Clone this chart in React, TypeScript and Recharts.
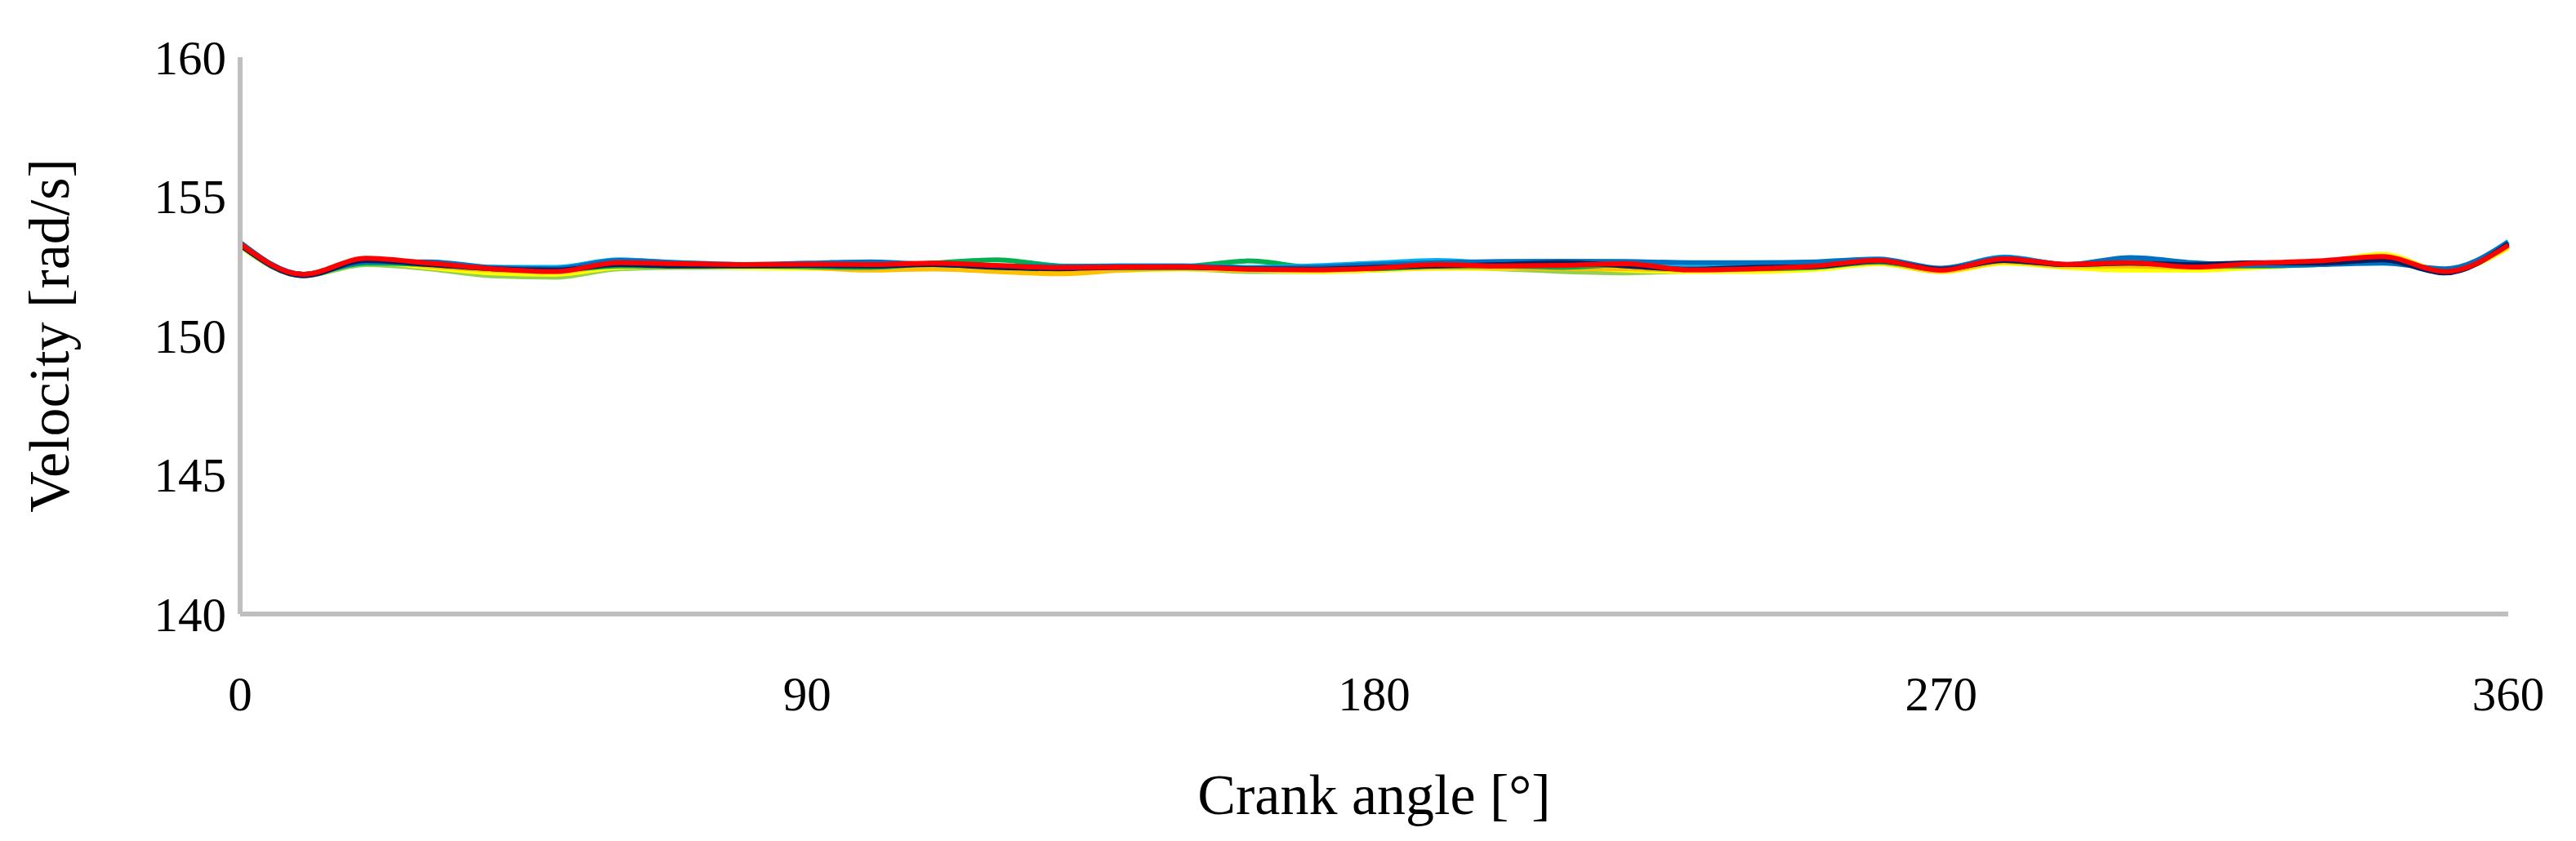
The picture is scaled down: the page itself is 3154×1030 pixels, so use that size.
import { LineChart, Line, XAxis, YAxis, Label } from "recharts";

// crank angle, degrees
const angles = [
  0, 10, 20, 30, 40, 50, 60, 70, 80, 90, 100, 110, 120, 130, 140, 150, 160, 170, 180,
  190, 200, 210, 220, 230, 240, 250, 260, 270, 280, 290, 300, 310, 320, 330, 340, 350, 360,
];

const lightGreen = [
  153.2, 152.15, 152.55, 152.4, 152.15, 152.1, 152.4, 152.45, 152.45, 152.45, 152.4, 152.4, 152.38,
  152.35, 152.4, 152.4, 152.3, 152.3, 152.35, 152.45, 152.4, 152.3, 152.25, 152.32, 152.35, 152.42,
  152.6, 152.3, 152.62, 152.48, 152.45, 152.42, 152.5, 152.55, 152.75, 152.3, 153.2,
];
const yellow = [
  153.2, 152.18, 152.65, 152.45, 152.25, 152.2, 152.45, 152.5, 152.45, 152.42, 152.42, 152.45, 152.4,
  152.3, 152.35, 152.4, 152.35, 152.3, 152.35, 152.42, 152.42, 152.45, 152.35, 152.3, 152.3, 152.38,
  152.58, 152.3, 152.6, 152.45, 152.35, 152.35, 152.45, 152.6, 152.92, 152.3, 153.15,
];
const orange = [
  153.25, 152.2, 152.7, 152.5, 152.35, 152.3, 152.5, 152.48, 152.5, 152.45, 152.35, 152.4, 152.3,
  152.22, 152.35, 152.42, 152.35, 152.35, 152.4, 152.45, 152.45, 152.4, 152.4, 152.35, 152.38, 152.45,
  152.62, 152.32, 152.65, 152.5, 152.5, 152.45, 152.5, 152.6, 152.85, 152.3, 153.2,
];
const green = [
  153.25, 152.2, 152.6, 152.55, 152.4, 152.35, 152.5, 152.5, 152.5, 152.48, 152.45, 152.6, 152.72,
  152.5, 152.45, 152.48, 152.68, 152.45, 152.4, 152.5, 152.5, 152.45, 152.55, 152.4, 152.4, 152.45,
  152.65, 152.38, 152.7, 152.55, 152.6, 152.5, 152.5, 152.55, 152.72, 152.3, 153.25,
];
const lightBlue = [
  153.35, 152.2, 152.75, 152.6, 152.45, 152.45, 152.72, 152.6, 152.55, 152.55, 152.55, 152.58, 152.5,
  152.48, 152.5, 152.5, 152.45, 152.5, 152.6, 152.7, 152.6, 152.6, 152.55, 152.45, 152.5, 152.55,
  152.7, 152.4, 152.82, 152.55, 152.75, 152.55, 152.6, 152.6, 152.7, 152.35, 153.38,
];
const blue = [
  153.35, 152.2, 152.65, 152.65, 152.45, 152.4, 152.7, 152.62, 152.55, 152.6, 152.65, 152.55, 152.5,
  152.48, 152.5, 152.5, 152.42, 152.45, 152.55, 152.62, 152.66, 152.67, 152.66, 152.62, 152.62, 152.65,
  152.75, 152.42, 152.8, 152.55, 152.8, 152.62, 152.52, 152.55, 152.6, 152.4, 153.35,
];
const navy = [
  153.25, 152.15, 152.7, 152.55, 152.4, 152.35, 152.55, 152.5, 152.5, 152.52, 152.5, 152.55, 152.45,
  152.4, 152.45, 152.45, 152.4, 152.38, 152.45, 152.5, 152.55, 152.62, 152.5, 152.38, 152.45, 152.48,
  152.68, 152.38, 152.7, 152.55, 152.6, 152.55, 152.62, 152.6, 152.72, 152.25, 153.3,
];
const red = [
  153.3, 152.2, 152.78, 152.6, 152.4, 152.3, 152.62, 152.58, 152.55, 152.56, 152.55, 152.6, 152.52,
  152.44, 152.46, 152.47, 152.38, 152.36, 152.42, 152.55, 152.5, 152.52, 152.58, 152.36, 152.4, 152.5,
  152.7, 152.35, 152.76, 152.56, 152.62, 152.46, 152.6, 152.68, 152.84, 152.3, 153.25,
];

const xTicks = [0, 90, 180, 270, 360];
const yTicks = [140, 145, 150, 155, 160];

const series = [
  { key: "s1", values: lightGreen, color: "#92D050" },
  { key: "s2", values: yellow, color: "#FFFF00" },
  { key: "s3", values: orange, color: "#FFC000" },
  { key: "s4", values: green, color: "#00B050" },
  { key: "s5", values: lightBlue, color: "#00B0F0" },
  { key: "s6", values: blue, color: "#0070C0" },
  { key: "s7", values: navy, color: "#002060" },
  { key: "s8", values: red, color: "#FF0000" },
];

const data = angles.map((a, i) => {
  const row: Record<string, number> = { angle: a };
  series.forEach((s) => (row[s.key] = s.values[i]));
  return row;
});

const font = "'Liberation Serif', 'Times New Roman', serif";
const axisGray = "#BFBFBF";

export default function App() {
  return (
    <div style={{ position: "absolute", left: 0, top: 0, background: "#fff" }}>
      <LineChart
        width={3154}
        height={1030}
        data={data}
        margin={{ top: 70, right: 83, left: 0, bottom: 0 }}
      >
        <XAxis
          dataKey="angle"
          type="number"
          domain={[0, 360]}
          ticks={xTicks}
          height={278}
          tickSize={0}
          tickMargin={76}
          axisLine={{ stroke: axisGray, strokeWidth: 6 }}
          tick={{ fill: "#000", fontSize: 59, fontFamily: font }}
        >
          <Label
            content={({ viewBox }: any) => (
              <text
                x={viewBox.x + viewBox.width / 2}
                y={viewBox.y + 221}
                textAnchor="middle"
                dominantBaseline="central"
                fontSize={70}
                fontFamily={font}
                fill="#000"
              >
                Crank angle [°]
              </text>
            )}
          />
        </XAxis>
        <YAxis
          domain={[140, 160]}
          ticks={yTicks}
          width={294}
          tickSize={0}
          tickMargin={17}
          axisLine={{ stroke: axisGray, strokeWidth: 6 }}
          tick={{ fill: "#000", fontSize: 59, fontFamily: font }}
        >
          <Label
            content={({ viewBox }: any) => {
              const cx = viewBox.x + 60;
              const cy = viewBox.y + viewBox.height / 2;
              return (
                <text
                  x={cx}
                  y={cy}
                  transform={`rotate(-90 ${cx} ${cy})`}
                  textAnchor="middle"
                  dominantBaseline="central"
                  fontSize={70}
                  fontFamily={font}
                  fill="#000"
                >
                  Velocity [rad/s]
                </text>
              );
            }}
          />
        </YAxis>
        {series.map((s) => (
          <Line
            key={s.key}
            dataKey={s.key}
            type="monotone"
            stroke={s.color}
            strokeWidth={6}
            dot={false}
            isAnimationActive={false}
          />
        ))}
      </LineChart>
    </div>
  );
}
